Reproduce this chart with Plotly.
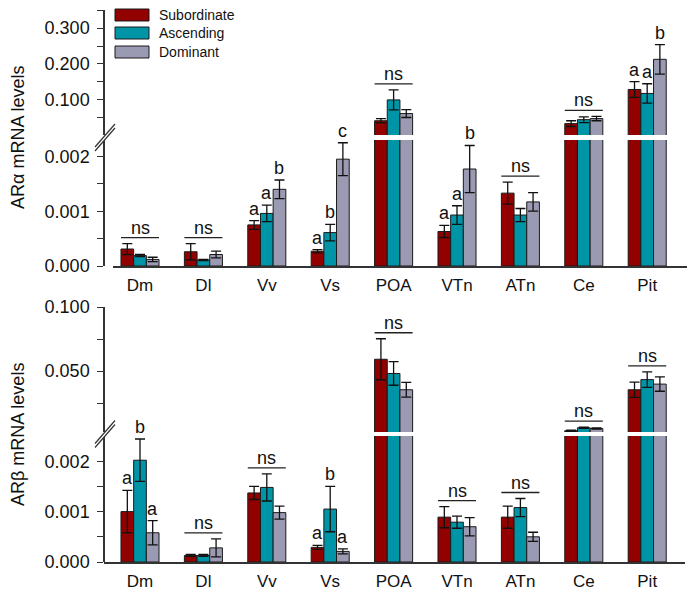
import plotly.graph_objects as go

# ---------------- data ----------------
categories = ["Dm", "Dl", "Vv", "Vs", "POA", "VTn", "ATn", "Ce", "Pit"]
groups = ["Subordinate", "Ascending", "Dominant"]

# AR alpha (top panel)
ara_sub = [0.00031, 0.00026, 0.00075, 0.00027, 0.042, 0.00063, 0.00133, 0.034, 0.129]
ara_sub_err = [0.00010, 0.00015, 0.00008, 0.00003, 0.006, 0.00011, 0.00020, 0.008, 0.022]
ara_asc = [0.00019, 0.00011, 0.00096, 0.00061, 0.100, 0.00093, 0.00093, 0.045, 0.118]
ara_asc_err = [0.00002, 0.00001, 0.00015, 0.00015, 0.028, 0.00017, 0.00012, 0.008, 0.027]
ara_dom = [0.00012, 0.00021, 0.00140, 0.00195, 0.062, 0.00177, 0.00117, 0.048, 0.213]
ara_dom_err = [0.00004, 0.00006, 0.00017, 0.00030, 0.011, 0.00043, 0.00017, 0.006, 0.041]
ara_marks = ["ns", "ns", "aab", "abc", "ns", "aab", "ns", "ns", "aab"]

# AR beta (bottom panel)
arb_sub = [0.00100, 0.00013, 0.00137, 0.00029, 0.0593, 0.00089, 0.00089, 0.0035, 0.0355]
arb_sub_err = [0.00042, 0.00002, 0.00013, 0.00004, 0.0160, 0.00021, 0.00022, 0.0005, 0.0060]
arb_asc = [0.00202, 0.00013, 0.00148, 0.00105, 0.0482, 0.00079, 0.00108, 0.0058, 0.0434]
arb_asc_err = [0.00042, 0.00002, 0.00027, 0.00045, 0.0092, 0.00012, 0.00018, 0.0005, 0.0060]
arb_dom = [0.00058, 0.00028, 0.00098, 0.00021, 0.0355, 0.00070, 0.00050, 0.0052, 0.0399]
arb_dom_err = [0.00024, 0.00018, 0.00013, 0.00005, 0.0058, 0.00018, 0.00009, 0.0005, 0.0056]
arb_marks = ["aba", "ns", "ns", "aba", "ns", "ns", "ns", "ns", "ns"]

# axis segments (broken axes)
ara_low_range = [0, 0.0023]
ara_up_range = [0.0023, 0.3502]
arb_low_range = [0, 0.0025]
arb_up_range = [0.0025, 0.1001]
ara_low_ticks = [0, 0.0005, 0.001, 0.0015, 0.002]
ara_low_text = ["0.000", "", "0.001", "", "0.002"]
ara_up_ticks = [0.05, 0.1, 0.15, 0.2, 0.25, 0.3, 0.35]
ara_up_text = ["", "0.100", "", "0.200", "", "0.300", ""]
arb_low_ticks = [0, 0.0005, 0.001, 0.0015, 0.002]
arb_low_text = ["0.000", "", "0.001", "", "0.002"]
arb_up_ticks = [0.025, 0.05, 0.075, 0.1]
arb_up_text = ["", "0.050", "", "0.100"]

colors = ["#930000", "#0095A6", "#9A9AB2"]
FONT = "Liberation Sans, Arial, sans-serif"
AXC = "#333333"

W, H = 695, 596
OX, OY = 8, 8  # page body margin compensation


def px(x):
    return (x - OX) / W


def py(y):
    return 1 - (y - OY) / H


fig = go.Figure()
xs = list(range(len(categories)))

panels = [
    dict(vals=[ara_sub, ara_asc, ara_dom], errs=[ara_sub_err, ara_asc_err, ara_dom_err],
         marks=ara_marks, lo="y", up="y2", xlo="x", xup="x2",
         lomax=ara_low_range[1]),
    dict(vals=[arb_sub, arb_asc, arb_dom], errs=[arb_sub_err, arb_asc_err, arb_dom_err],
         marks=arb_marks, lo="y3", up="y4", xlo="x3", xup="x4",
         lomax=arb_low_range[1]),
]

shapes = []
annotations = []

for p in panels:
    for g in range(3):
        v = p["vals"][g]
        e = p["errs"][g]
        fig.add_trace(go.Bar(
            x=xs, y=v, name=groups[g], xaxis=p["xlo"], yaxis=p["lo"],
            offsetgroup=str(g), showlegend=False,
            marker=dict(color=colors[g], line=dict(color="#1a1a1a", width=1)),
            error_y=dict(type="data", array=e, color="#111111", thickness=1.3, width=5),
        ))
        vu = [val if val > p["lomax"] else None for val in v]
        eu = [err if val > p["lomax"] else 0 for val, err in zip(v, e)]
        fig.add_trace(go.Bar(
            x=xs, y=vu, name=groups[g], xaxis=p["xup"], yaxis=p["up"],
            offsetgroup=str(g), showlegend=False,
            marker=dict(color=colors[g], line=dict(color="#1a1a1a", width=1)),
            error_y=dict(type="data", array=eu, color="#111111", thickness=1.3, width=5),
        ))
    for i, m in enumerate(p["marks"]):
        tops = [p["vals"][g][i] + p["errs"][g][i] for g in range(3)]
        if m == "ns":
            mt = max(tops)
            ya = p["up"] if mt > p["lomax"] else p["lo"]
            xa = p["xup"] if ya == p["up"] else p["xlo"]
            shapes.append(dict(type="line", xref=xa, yref=ya, x0=i - 0.3, x1=i + 0.3,
                               ysizemode="pixel", yanchor=mt, y0=6, y1=6,
                               line=dict(color="#222222", width=1.3)))
            annotations.append(dict(x=i, y=mt, xref=xa, yref=ya, text="ns",
                                    showarrow=False, yanchor="bottom", yshift=4,
                                    font=dict(size=18, color="#111111", family=FONT)))
        else:
            for g in range(3):
                t = tops[g]
                ya = p["up"] if t > p["lomax"] else p["lo"]
                xa = p["xup"] if ya == p["up"] else p["xlo"]
                annotations.append(dict(x=i + (g - 1) * 0.2, y=t, xref=xa, yref=ya,
                                        text=m[g], showarrow=False, yanchor="bottom",
                                        yshift=0,
                                        font=dict(size=18, color="#111111", family=FONT)))

# legend (custom swatches)
leg_rows = [(9, 21), (27, 39), (46, 58)]
for g, (y0, y1) in enumerate(leg_rows):
    shapes.append(dict(type="rect", xref="paper", yref="paper",
                       x0=px(115), x1=px(149), y0=py(y1), y1=py(y0),
                       fillcolor=colors[g], line=dict(color="#1a1a1a", width=1)))
    annotations.append(dict(x=px(157), y=py((y0 + y1) / 2), xref="paper", yref="paper",
                            text=groups[g], showarrow=False, xanchor="left",
                            yanchor="middle",
                            font=dict(size=14, color="#111111", family=FONT)))

# axis break marks
for yc in (137.5, 434):
    pts = [(95, yc + 9.5), (115, yc - 13.5), (115, yc - 9.5), (95, yc + 13.5)]
    path = "M " + " L ".join(f"{px(a)},{py(b)}" for a, b in pts) + " Z"
    shapes.append(dict(type="path", xref="paper", yref="paper", path=path,
                       fillcolor="white", line=dict(width=0)))
    for a, b in ((pts[0], pts[1]), (pts[3], pts[2])):
        shapes.append(dict(type="line", xref="paper", yref="paper",
                           x0=px(a[0]), y0=py(a[1]), x1=px(b[0]), y1=py(b[1]),
                           line=dict(color=AXC, width=1.2)))

# y titles
annotations.append(dict(x=px(18), y=py(138), xref="paper", yref="paper",
                        xanchor="center", yanchor="middle",
                        text="ARα mRNA levels", textangle=-90, showarrow=False,
                        font=dict(size=18, color="#111111", family=FONT)))
annotations.append(dict(x=px(18), y=py(435), xref="paper", yref="paper",
                        xanchor="center", yanchor="middle",
                        text="ARβ mRNA levels", textangle=-90, showarrow=False,
                        font=dict(size=18, color="#111111", family=FONT)))


def yax(dom, rng, tv, tt):
    return dict(domain=dom, range=rng, anchor="free", position=px(104),
                tickvals=tv, ticktext=tt, ticks="outside", ticklen=6,
                tickcolor=AXC, tickwidth=1.3, showline=True, linecolor=AXC,
                linewidth=1.5, showgrid=False, zeroline=False, automargin=False,
                tickfont=dict(size=18, color="#111111", family=FONT),
                ticklabelstandoff=4)


def xax(dom, rng, anchor, visible=True):
    return dict(domain=dom, range=rng, anchor=anchor, visible=visible,
                tickvals=xs, ticktext=categories, ticks="", showline=visible,
                linecolor=AXC, linewidth=1.5, showgrid=False, zeroline=False,
                automargin=False,
                tickfont=dict(size=17, color="#111111", family=FONT),
                ticklabelstandoff=3)


top_dom = [px(113), px(687)]
top_rng = [(113 - 140) / 63.4, (687 - 140) / 63.4]
bot_dom = [px(104), px(685)]
bot_rng = [(104 - 140) / 63.4, (685 - 140) / 63.4]

fig.update_layout(
    width=W, height=H,
    margin=dict(l=0, r=0, t=0, b=0, pad=0, autoexpand=False),
    paper_bgcolor="white", plot_bgcolor="white",
    barmode="group", bargap=0.4, bargroupgap=0,
    showlegend=False,
    font=dict(family=FONT, color="#111111"),
    xaxis=xax(top_dom, top_rng, "y"),
    xaxis2=xax(top_dom, top_rng, "y2", visible=False),
    xaxis3=xax(bot_dom, bot_rng, "y3"),
    xaxis4=xax(bot_dom, bot_rng, "y4", visible=False),
    yaxis=yax([py(266), py(140)], ara_low_range, ara_low_ticks, ara_low_text),
    yaxis2=yax([py(135), py(10)], ara_up_range, ara_up_ticks, ara_up_text),
    yaxis3=yax([py(562), py(436)], arb_low_range, arb_low_ticks, arb_low_text),
    yaxis4=yax([py(432), py(307)], arb_up_range, arb_up_ticks, arb_up_text),
    shapes=shapes, annotations=annotations,
)

fig.write_html("out.html")
